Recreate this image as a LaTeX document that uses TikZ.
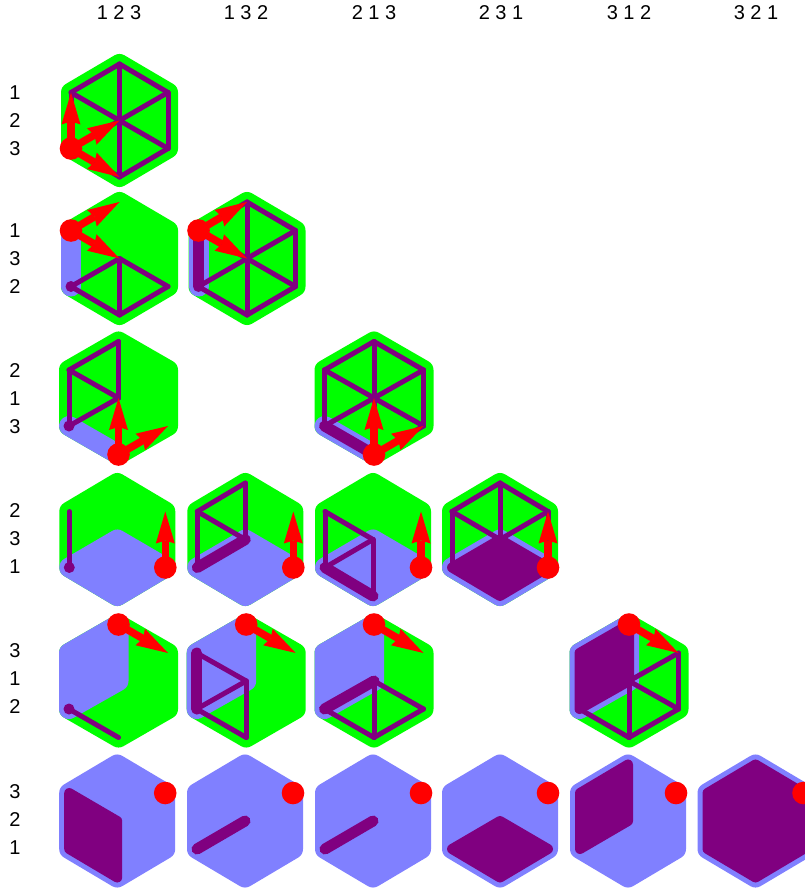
\documentclass[tikz,border=0pt]{standalone}
\usepackage{fontspec}
\setmainfont{Liberation Sans}
\usetikzlibrary{arrows.meta}
\definecolor{cgreen}{HTML}{00FF00}
\definecolor{clav}{HTML}{8080FF}
\definecolor{cpurp}{HTML}{800080}
\definecolor{cred}{HTML}{FF0000}
\tikzset{
  face/.style={line width=20pt,line join=round,line cap=round},
  greenface/.style={face,draw=cgreen,fill=cgreen},
  lavface/.style={face,draw=clav,fill=clav},
  darkface/.style={line width=10pt,line join=round,line cap=round,draw=cpurp,fill=cpurp},
  wire/.style={line width=5pt,line cap=round,draw=cpurp},
  thickwire/.style={line width=11pt,line cap=round,draw=cpurp},
  redarrow/.style={line width=7.5pt,draw=cred,-{Stealth[length=32pt,width=19pt,inset=3pt,line width=0pt,fill=cred]}},
  lab/.style={font=\fontsize{20}{20}\selectfont,inner sep=0pt,anchor=center}
}
% named points of one cell
\newcommand{\cell}[3]{%
  \coordinate (C) at (#1,#2);
  \coordinate (T) at (#1,#2-56.5);
  \coordinate (B) at (#1,#2+56.5);
  \coordinate (UL) at (#1-#3,#2-28);
  \coordinate (LL) at (#1-#3,#2+28);
  \coordinate (UR) at (#1+#3,#2-28);
  \coordinate (LR) at (#1+#3,#2+28);
}
\newcommand{\Ghex}{\path[greenface] (T)--(UR)--(LR)--(B)--(LL)--(UL)--cycle;}
\newcommand{\Lhex}{\path[lavface] (T)--(UR)--(LR)--(B)--(LL)--(UL)--cycle;}
\newcommand{\Lbottom}{\path[lavface] (LL)--(C)--(LR)--(B)--cycle;}
\newcommand{\Lleft}{\path[lavface] (T)--(UL)--(LL)--(C)--cycle;}
\newcommand{\Lstroke}[2]{\draw[face,draw=clav] (#1)--(#2);}
\newcommand{\Wires}[1]{\foreach \a/\b in {#1} {\draw[wire] (\a)--(\b);}}
\newcommand{\Wheel}{\Wires{T/UR,UR/LR,LR/B,B/LL,LL/UL,UL/T,C/T,C/B,C/UL,C/UR,C/LL,C/LR}}
\newcommand{\Thick}[2]{\draw[thickwire] (#1)--(#2);}
\newcommand{\Small}[1]{\fill[cpurp] (#1) circle[radius=5.5pt];}
\newcommand{\Dot}[1]{\fill[cred] (#1) circle[radius=11.3pt];}
\newcommand{\Arr}[2]{\draw[redarrow] (#1)--(#2);}
\begin{document}
\begin{tikzpicture}[x=1pt,y=-1pt]
\useasboundingbox (0,0) rectangle (804,888);
\fill[white] (0,0) rectangle (804,888);
% column heads
\foreach \x/\t/\n in {119/1 2 3/a,246/1 3 2/b,374/2 1 3/c,501/2 3 1/d,629/3 1 2/e,756/3 2 1/f}
  \node[lab] (head\n) at (\x,13) {\t};
% row labels
\foreach \y/\t/\n in {93/1/a,121/2/b,149/3/c,231/1/d,259/3/e,287/2/f,371/2/g,399/1/h,427/3/i,511/2/j,539/3/k,567/1/l,651/3/m,679/1/n,707/2/o,792/3/p,820/2/q,848/1/r}
  \node[lab] (row\n) at (15,\y) {\t};
% row 1
\cell{119.5}{120.5}{48.5}\Ghex\Wheel\Dot{LL}\Arr{LL}{UL}\Arr{LL}{C}\Arr{LL}{B}
% row 2
\cell{119.5}{258.5}{48.5}\Ghex\Lstroke{UL}{LL}\Wires{C/LL,C/LR,C/B,LL/B,B/LR}\Small{LL}\Dot{UL}\Arr{UL}{T}\Arr{UL}{C}
\cell{247}{258.5}{48.5}\Ghex\Lstroke{UL}{LL}\Wheel\Thick{UL}{LL}\Dot{UL}\Arr{UL}{T}\Arr{UL}{C}
% row 3
\cell{118.5}{398}{49.5}\Ghex\Lstroke{LL}{B}\Wires{T/UL,UL/LL,UL/C,T/C,LL/C}\Small{LL}\Dot{B}\Arr{B}{C}\Arr{B}{LR}
\cell{374}{398}{49.5}\Ghex\Lstroke{LL}{B}\Wheel\Thick{LL}{B}\Dot{B}\Arr{B}{C}\Arr{B}{LR}
% row 4
\cell{117.3}{539.5}{48}\Ghex\Lbottom\Wires{UL/LL}\Small{LL}\Dot{LR}\Arr{LR}{UR}
\cell{245.3}{539.5}{48}\Ghex\Lbottom\Wires{T/UL,UL/LL,UL/C,T/C}\Thick{LL}{C}\Dot{LR}\Arr{LR}{UR}
\cell{373}{539.5}{48}\Ghex\Lbottom\Wires{UL/LL,UL/C,C/LL,C/B}\Thick{LL}{B}\Dot{LR}\Arr{LR}{UR}
\cell{500}{539.5}{48}\Ghex\Lbottom\path[darkface] (LL)--(C)--(LR)--(B)--cycle;\Wires{UL/T,T/UR,UR/LR,UL/LL,T/C,UL/C,UR/C}\Dot{LR}\Arr{LR}{UR}
% row 5
\cell{118.5}{681}{49.5}\Ghex\Lleft\Wires{LL/B}\Small{LL}\Dot{T}\Arr{T}{UR}
\cell{246.2}{681}{49.5}\Ghex\Lleft\Wires{UL/C,C/LL,C/B,LL/B}\Thick{UL}{LL}\Dot{T}\Arr{T}{UR}
\cell{374}{681}{49.5}\Ghex\Lleft\Wires{LL/B,C/B,C/LR,B/LR}\Thick{LL}{C}\Dot{T}\Arr{T}{UR}
\cell{629}{681}{49.5}\Ghex\Lleft\path[darkface] (T)--(UL)--(LL)--(C)--cycle;\Wires{C/UR,UR/LR,C/LR,C/B,LL/B,B/LR}\Dot{T}\Arr{T}{UR}
% row 6
\cell{117.2}{821}{48}\Lhex\path[darkface] (UL)--(C)--(B)--(LL)--cycle;\Dot{UR}
\cell{245}{821}{48}\Lhex\Thick{LL}{C}\Dot{UR}
\cell{373}{821}{48}\Lhex\Thick{LL}{C}\Dot{UR}
\cell{500}{821}{48}\Lhex\path[darkface] (LL)--(C)--(LR)--(B)--cycle;\Dot{UR}
\cell{628}{821}{48}\Lhex\path[darkface] (T)--(UL)--(LL)--(C)--cycle;\Dot{UR}
\cell{755.5}{821}{48}\Lhex\path[darkface] (T)--(UR)--(LR)--(B)--(LL)--(UL)--cycle;\Dot{UR}
\end{tikzpicture}
\end{document}
